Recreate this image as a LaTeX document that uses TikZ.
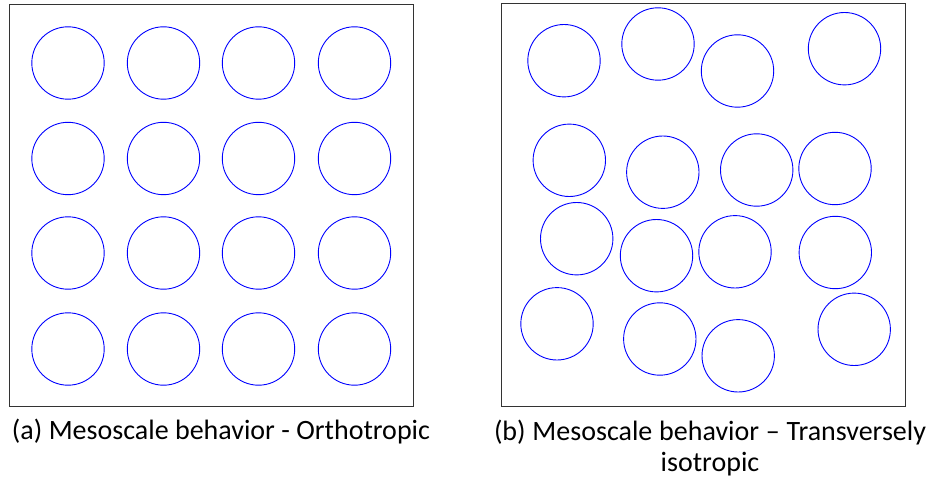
\documentclass[tikz,border=0pt]{standalone}
\usepackage{fontspec}
\setmainfont{Carlito}
\begin{document}
\begin{tikzpicture}[x=1pt,y=-1pt,
  cell/.style={draw=black!80,line width=1pt},
  fibre/.style={draw=blue,line width=0.9pt},
  caption/.style={font=\fontsize{28}{33}\selectfont,inner sep=0pt,anchor=base}]
\useasboundingbox (0,0) rectangle (933,486);
% (a) regular square packing
\node[cell,minimum width=404pt,minimum height=402pt,inner sep=0pt] (boxa) at (211.2,205.9) {};
\foreach \cx [count=\i] in {68,163.5,258.5,354.5}
  \foreach \cy [count=\j] in {63,158.5,253,349}
    \draw[fibre] (\cx,\cy) circle (36.2);
% (b) random packing
\node[cell,minimum width=404pt,minimum height=402pt,inner sep=0pt] (boxb) at (703.3,205) {};
\foreach \cx/\cy in {564/60.7, 658/44, 737.5/71, 844.5/48.7,
                     569.3/160.3, 662.8/172.2, 756.7/170, 835/168.5,
                     576.7/238.7, 656.5/255.7, 735/251.8, 835.3/252.5,
                     557/323.8, 659.8/339, 738.2/355.8, 854.2/329.3}
  \draw[fibre] (\cx,\cy) circle (36.2);
% captions, spread to the width of a justified line
\node[caption] (capa) at (221,439) {\makebox[418pt][s]{(a) Mesoscale behavior - Orthotropic}};
\node[caption] (capb1) at (710,440) {\makebox[432pt][s]{(b) Mesoscale behavior -- Transversely}};
\node[caption] (capb2) at (710,471) {isotropic};
\end{tikzpicture}
\end{document}
